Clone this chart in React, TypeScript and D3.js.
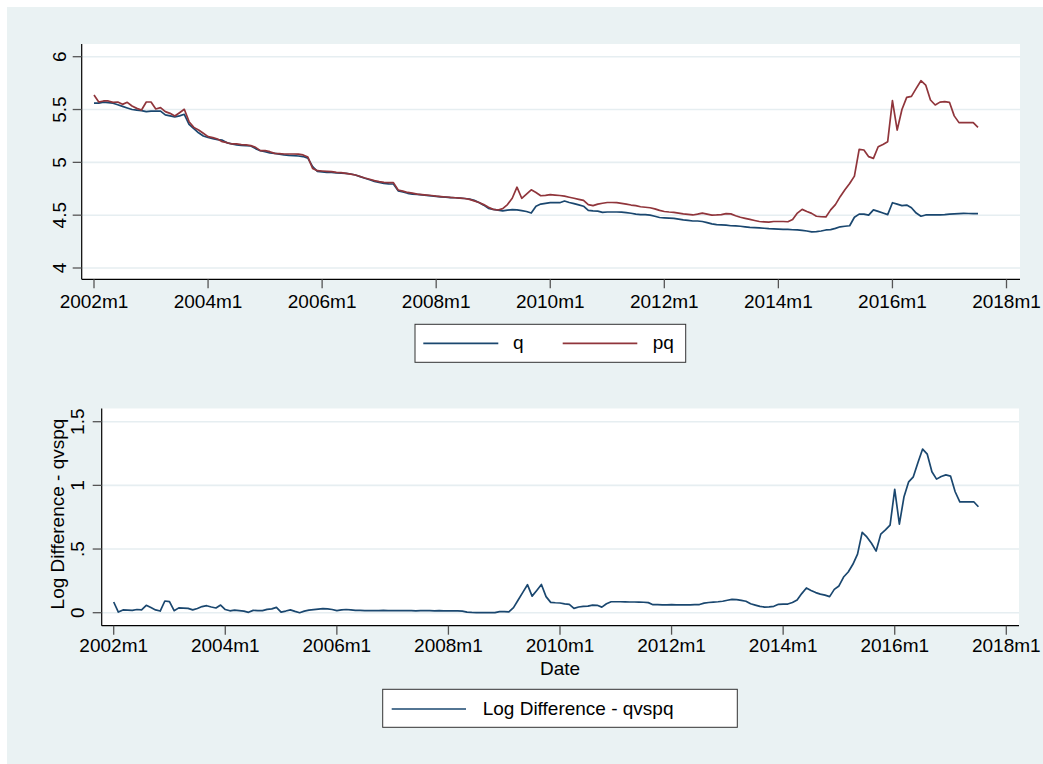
import React from 'react';
import * as d3 from 'd3';

// monthly series, 2002m1 .. 2017m7 (187 months)
const q = [
  5.56, 5.56, 5.57, 5.565, 5.56, 5.545, 5.53, 5.515, 5.5, 5.495,
  5.49, 5.48, 5.485, 5.485, 5.485, 5.45, 5.44, 5.43, 5.44, 5.455,
  5.36, 5.32, 5.28, 5.25, 5.235, 5.225, 5.215, 5.21, 5.185, 5.175,
  5.165, 5.16, 5.158, 5.155, 5.13, 5.11, 5.1, 5.09, 5.085, 5.078,
  5.07, 5.066, 5.063, 5.06, 5.055, 5.04, 4.96, 4.915, 4.91, 4.905,
  4.905, 4.9, 4.898, 4.896, 4.89, 4.88, 4.865, 4.85, 4.835, 4.82,
  4.81, 4.8, 4.797, 4.795, 4.73, 4.72, 4.707, 4.7, 4.697, 4.692,
  4.687, 4.683, 4.678, 4.673, 4.67, 4.667, 4.665, 4.662, 4.658, 4.653,
  4.64, 4.62, 4.595, 4.565, 4.555, 4.548, 4.54, 4.548, 4.552, 4.55,
  4.543, 4.535, 4.52, 4.585, 4.605, 4.612, 4.618, 4.618, 4.618, 4.634,
  4.62, 4.61, 4.598, 4.585, 4.545, 4.54, 4.538, 4.527, 4.53, 4.53,
  4.53, 4.528, 4.524, 4.518, 4.51, 4.505, 4.505, 4.5, 4.49, 4.478,
  4.475, 4.473, 4.47, 4.462, 4.455, 4.45, 4.445, 4.445, 4.44, 4.43,
  4.418, 4.41, 4.408, 4.405, 4.4, 4.398, 4.395, 4.39, 4.385, 4.383,
  4.38, 4.376, 4.372, 4.37, 4.368, 4.366, 4.365, 4.362, 4.36, 4.356,
  4.35, 4.342, 4.345, 4.35, 4.36, 4.363, 4.375, 4.39, 4.395, 4.4,
  4.48, 4.51, 4.51, 4.5, 4.55, 4.536, 4.52, 4.505, 4.618, 4.605,
  4.59, 4.596, 4.57, 4.52, 4.49, 4.502, 4.503, 4.503, 4.503, 4.505,
  4.51, 4.512, 4.515, 4.517, 4.516, 4.515, 4.514,
];

const pq = [
  5.637, 5.571, 5.581, 5.581, 5.568, 5.571, 5.549, 5.568, 5.533, 5.511,
  5.496, 5.571, 5.571, 5.505, 5.518, 5.48, 5.464, 5.439, 5.47, 5.502,
  5.385, 5.331, 5.306, 5.275, 5.243, 5.234, 5.221, 5.196, 5.186, 5.174,
  5.174, 5.168, 5.165, 5.158, 5.142, 5.111, 5.111, 5.101, 5.085, 5.082,
  5.079, 5.079, 5.079, 5.078, 5.07, 5.05, 4.943, 4.921, 4.918, 4.915,
  4.913, 4.905, 4.902, 4.896, 4.888, 4.88, 4.866, 4.852, 4.84, 4.827,
  4.817, 4.81, 4.808, 4.808, 4.738, 4.728, 4.715, 4.708, 4.7, 4.695,
  4.69, 4.686, 4.68, 4.676, 4.672, 4.668, 4.665, 4.662, 4.658, 4.65,
  4.635, 4.62, 4.6, 4.575, 4.555, 4.549, 4.562, 4.6, 4.66, 4.765,
  4.66, 4.7, 4.74, 4.715, 4.684, 4.688, 4.694, 4.69, 4.686, 4.68,
  4.67, 4.66, 4.65, 4.64, 4.6, 4.59, 4.605, 4.613, 4.62, 4.62,
  4.618, 4.612, 4.605, 4.596, 4.59, 4.58, 4.575, 4.57, 4.56, 4.545,
  4.535, 4.53, 4.527, 4.52, 4.513, 4.508, 4.502, 4.51, 4.52, 4.51,
  4.5, 4.502, 4.505, 4.515, 4.512, 4.495, 4.48, 4.47, 4.46, 4.45,
  4.44, 4.437, 4.434, 4.44, 4.44, 4.44, 4.438, 4.46, 4.52, 4.555,
  4.535, 4.517, 4.49, 4.485, 4.483, 4.55, 4.6, 4.675, 4.74, 4.8,
  4.87, 5.123, 5.117, 5.054, 5.038, 5.148, 5.17, 5.196, 5.585, 5.306,
  5.5, 5.615, 5.625, 5.7, 5.773, 5.732, 5.59, 5.543, 5.57, 5.574,
  5.568, 5.44, 5.376, 5.376, 5.376, 5.376, 5.331,
];

const logDiff = [
  0.084, 0.005, 0.022, 0.02, 0.018, 0.025, 0.022, 0.058, 0.04, 0.022,
  0.013, 0.092, 0.087, 0.016, 0.038, 0.036, 0.034, 0.022, 0.033, 0.048,
  0.055, 0.045, 0.037, 0.06, 0.025, 0.015, 0.02, 0.016, 0.012, 0.003,
  0.018, 0.017, 0.016, 0.026, 0.03, 0.042, 0.005, 0.013, 0.022, 0.01,
  0.0, 0.012, 0.02, 0.024, 0.028, 0.032, 0.03, 0.025, 0.016, 0.022,
  0.025, 0.022, 0.018, 0.018, 0.016, 0.016, 0.016, 0.017, 0.018, 0.016,
  0.016, 0.016, 0.017, 0.016, 0.016, 0.015, 0.016, 0.016, 0.016, 0.015,
  0.016, 0.015, 0.015, 0.014, 0.014, 0.013, 0.005, 0.002, 0.0, 0.0,
  0.0, 0.0, 0.0, 0.008, 0.008, 0.006, 0.04, 0.1, 0.16, 0.22,
  0.13, 0.175, 0.222, 0.126, 0.081, 0.078, 0.076, 0.07, 0.066, 0.034,
  0.045, 0.05, 0.052, 0.06, 0.058, 0.044, 0.07, 0.086, 0.086, 0.086,
  0.085, 0.084, 0.084, 0.083, 0.082, 0.079, 0.063, 0.063, 0.061, 0.062,
  0.063, 0.062, 0.061, 0.061, 0.062, 0.063, 0.064, 0.075, 0.08, 0.083,
  0.086, 0.09, 0.098, 0.105, 0.102, 0.097, 0.09, 0.07, 0.06, 0.05,
  0.044, 0.046, 0.05, 0.066, 0.068, 0.068, 0.08, 0.1, 0.15, 0.194,
  0.175, 0.158, 0.146, 0.138, 0.126, 0.183, 0.21, 0.28, 0.32, 0.38,
  0.46, 0.631, 0.595, 0.545, 0.484, 0.617, 0.65, 0.688, 0.968, 0.696,
  0.911, 1.028, 1.067, 1.18, 1.285, 1.245, 1.107, 1.049, 1.07, 1.082,
  1.073, 0.95, 0.87, 0.871, 0.871, 0.871, 0.832,
];

// months since 2002m1
const xTickMonths = [0, 24, 48, 72, 96, 120, 144, 168, 192];
const xTickLabels = ['2002m1', '2004m1', '2006m1', '2008m1', '2010m1', '2012m1', '2014m1', '2016m1', '2018m1'];
const topYTicks = [4, 4.5, 5, 5.5, 6];
const topYLabels = ['4', '4.5', '5', '5.5', '6'];
const bottomYTicks = [0, 0.5, 1, 1.5];
const bottomYLabels = ['0', '.5', '1', '1.5'];

const BG = '#EAF2F3';
const GRID = '#E6EEF1';
const NAVY = '#1A476F';
const MAROON = '#90353B';
const FONT = '"Liberation Sans", Arial, Helvetica, sans-serif';
const FS = 19;

type Series = { values: number[]; color: string };

type PanelProps = {
  box: { x0: number; x1: number; y0: number; y1: number };
  xRange: [number, number];
  yDomain: [number, number];
  yRange: [number, number];
  yTicks: number[];
  yLabels: string[];
  yLabelX: number;
  xLabelY: number;
  series: Series[];
};

const Panel = ({ box, xRange, yDomain, yRange, yTicks, yLabels, yLabelX, xLabelY, series }: PanelProps) => {
  const x = d3.scaleLinear().domain([0, 192]).range(xRange);
  const y = d3.scaleLinear().domain(yDomain).range(yRange);
  const line = d3
    .line<number>()
    .x((_, i) => x(i))
    .y((d) => y(d));

  return (
    <g>
      <rect x={box.x0} y={box.y0} width={box.x1 - box.x0} height={box.y1 - box.y0} fill="#fff" />
      {yTicks.map((t) => (
        <line key={'g' + t} x1={box.x0} x2={box.x1} y1={y(t)} y2={y(t)} stroke={GRID} strokeWidth={1.6} />
      ))}
      {series.map((s, i) => (
        <path key={i} d={line(s.values) || ''} fill="none" stroke={s.color} strokeWidth={1.7} strokeLinejoin="round" />
      ))}
      <line x1={box.x0} x2={box.x0} y1={box.y0} y2={box.y1} stroke="#000" strokeWidth={1.2} />
      <line x1={box.x0} x2={box.x1} y1={box.y1} y2={box.y1} stroke="#000" strokeWidth={1.2} />
      {yTicks.map((t, i) => (
        <g key={'y' + t}>
          <line x1={box.x0 - 9} x2={box.x0} y1={y(t)} y2={y(t)} stroke="#555" strokeWidth={1.3} />
          <text
            transform={`translate(${yLabelX},${y(t)}) rotate(-90)`}
            textAnchor="middle"
            fontFamily={FONT}
            fontSize={FS}
            fill="#000"
          >
            {yLabels[i]}
          </text>
        </g>
      ))}
      {xTickMonths.map((m, i) => (
        <g key={'x' + m}>
          <line x1={x(m)} x2={x(m)} y1={box.y1} y2={box.y1 + 9} stroke="#555" strokeWidth={1.3} />
          <text x={x(m)} y={xLabelY} textAnchor="middle" fontFamily={FONT} fontSize={FS} fill="#000">
            {xTickLabels[i]}
          </text>
        </g>
      ))}
    </g>
  );
};

const App = () => {
  return (
    <svg width={1043} height={764} style={{ position: 'absolute', left: 0, top: 0 }}>
      <rect x={7} y={7} width={1036} height={757} fill={BG} />

      <Panel
        box={{ x0: 81.7, x1: 1020, y0: 44, y1: 279.3 }}
        xRange={[94, 1006.5]}
        yDomain={[4, 6]}
        yRange={[268, 56.7]}
        yTicks={topYTicks}
        yLabels={topYLabels}
        yLabelX={66}
        xLabelY={308}
        series={[
          { values: q, color: NAVY },
          { values: pq, color: MAROON },
        ]}
      />
      <g fontFamily={FONT} fontSize={FS}>
        <rect x={415} y={324.3} width={270.7} height={38} fill="#fff" stroke="#333" strokeWidth={1} />
        <line x1={423.3} x2={498.3} y1={343.3} y2={343.3} stroke={NAVY} strokeWidth={1.7} />
        <text x={513} y={349}>q</text>
        <line x1={562.7} x2={637.3} y1={343.3} y2={343.3} stroke={MAROON} strokeWidth={1.7} />
        <text x={652.7} y={349}>pq</text>
      </g>

      <Panel
        box={{ x0: 101.7, x1: 1019, y0: 408.5, y1: 625.7 }}
        xRange={[113.7, 1006.3]}
        yDomain={[0, 1.5]}
        yRange={[612.7, 421.7]}
        yTicks={bottomYTicks}
        yLabels={bottomYLabels}
        yLabelX={84}
        xLabelY={652.3}
        series={[{ values: logDiff, color: NAVY }]}
      />
      <g fontFamily={FONT} fontSize={FS}>
        <text transform="translate(64,514) rotate(-90)" textAnchor="middle">
          Log Difference - qvspq
        </text>
        <text x={560} y={675} textAnchor="middle">Date</text>
        <rect x={382.7} y={689.3} width={354.6} height={38} fill="#fff" stroke="#333" strokeWidth={1} />
        <line x1={391.7} x2={466} y1={709} y2={709} stroke={NAVY} strokeWidth={1.7} />
        <text x={482.7} y={715}>Log Difference - qvspq</text>
      </g>
    </svg>
  );
};

export default App;
